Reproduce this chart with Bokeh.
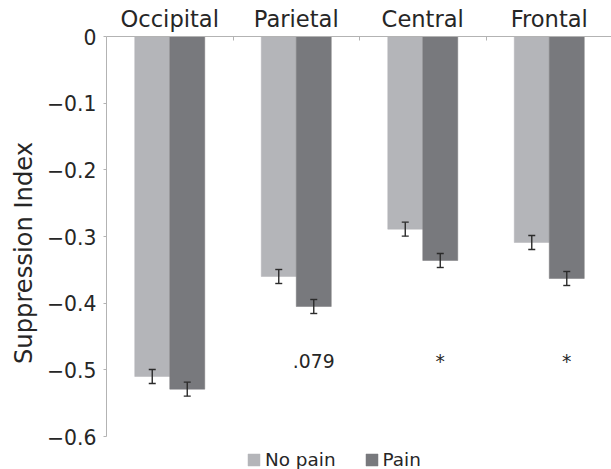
from bokeh.plotting import figure
from bokeh.models import (Range1d, FixedTicker, ColumnDataSource, Whisker, TeeHead,
                          Legend, LegendItem)
from bokeh.core.properties import value
from bokeh.embed import file_html
from bokeh.resources import INLINE

# ---- data ----
categories = ["Occipital", "Parietal", "Central", "Frontal"]
no_pain = [-0.510, -0.360, -0.289, -0.309]
pain = [-0.529, -0.405, -0.336, -0.363]
no_pain_err = [0.0105, 0.0105, 0.0105, 0.0105]
pain_err = [0.0105, 0.0105, 0.0105, 0.0105]
annotations = ["", ".079", "*", "*"]
y_ticks = [0, -0.1, -0.2, -0.3, -0.4, -0.5, -0.6]
y_tick_labels = ["0", "\u22120.1", "\u22120.2", "\u22120.3", "\u22120.4", "\u22120.5", "\u22120.6"]

FONT = "DejaVu Sans"
LIGHT = "#b4b5b9"
DARK = "#78797d"
TEXT = "#262626"
AXIS = "#b3b3b3"

bar_w = 0.2767
centers = [i + 0.5 for i in range(len(categories))]
x_np = [c - bar_w / 2 for c in centers]
x_p = [c + bar_w / 2 for c in centers]

p = figure(width=611, height=469, x_range=Range1d(0, 3.992), y_range=Range1d(-0.6495, 0),
           x_axis_location="above", output_backend="svg", toolbar_location=None,
           min_border_left=106, min_border_top=36, min_border_right=0, min_border_bottom=0)
p.outline_line_color = None
p.grid.visible = False
p.background_fill_color = "white"

src_np = ColumnDataSource(dict(x=x_np, top=[0] * 4, bottom=no_pain,
                               upper=[v + e for v, e in zip(no_pain, no_pain_err)],
                               lower=[v - e for v, e in zip(no_pain, no_pain_err)]))
src_p = ColumnDataSource(dict(x=x_p, top=[0] * 4, bottom=pain,
                              upper=[v + e for v, e in zip(pain, pain_err)],
                              lower=[v - e for v, e in zip(pain, pain_err)]))

r_np = p.vbar(x="x", width=bar_w, top="top", bottom="bottom", source=src_np,
              fill_color=LIGHT, line_color=LIGHT, line_width=0.5)
r_p = p.vbar(x="x", width=bar_w, top="top", bottom="bottom", source=src_p,
             fill_color=DARK, line_color=DARK, line_width=0.5)

for src in (src_np, src_p):
    w = Whisker(base="x", upper="upper", lower="lower", source=src, level="overlay",
                line_color="#2b2b2b", line_width=1.4,
                upper_head=TeeHead(size=7, line_color="#2b2b2b", line_width=1.4),
                lower_head=TeeHead(size=7, line_color="#2b2b2b", line_width=1.4))
    p.add_layout(w)

ann_src = ColumnDataSource(dict(x=x_p, y=[-0.487] * 4, text=annotations))
p.text(x="x", y="y", text="text", source=ann_src, text_font=value(FONT),
       text_font_size="18.8px", text_color=TEXT, text_align="center",
       text_baseline="alphabetic")

# top axis: category names at centres, ticks at category boundaries
xa = p.xaxis[0]
xa.ticker = FixedTicker(ticks=centers, minor_ticks=[1, 2, 3])
xa.major_label_overrides = {c: name for c, name in zip(centers, categories)}
xa.major_label_text_font = FONT
xa.major_label_text_font_size = "22.6px"
xa.major_label_text_color = TEXT
xa.major_label_standoff = 5
xa.major_tick_line_color = None
xa.major_tick_out = 0
xa.major_tick_in = 0
xa.minor_tick_in = 4
xa.minor_tick_out = 0
xa.minor_tick_line_color = AXIS
xa.axis_line_color = AXIS

ya = p.yaxis[0]
ya.ticker = FixedTicker(ticks=y_ticks, minor_ticks=[])
ya.major_label_overrides = {t: l for t, l in zip(y_ticks, y_tick_labels)}
ya.bounds = (-0.6, 0)
ya.axis_line_color = AXIS
ya.major_tick_line_color = AXIS
ya.major_tick_out = 3
ya.major_tick_in = 0
ya.minor_tick_line_color = None
ya.major_label_text_font = FONT
ya.major_label_text_font_size = "20.4px"
ya.major_label_text_color = TEXT
ya.major_label_standoff = 7
ya.axis_label = "Suppression Index"
ya.axis_label_text_font = FONT
ya.axis_label_text_font_size = "24.2px"
ya.axis_label_text_font_style = "normal"
ya.axis_label_text_color = TEXT
ya.axis_label_standoff = 6

legend = Legend(items=[LegendItem(label="No pain", renderers=[r_np]),
                       LegendItem(label="Pain", renderers=[r_p])],
                orientation="horizontal", location=(140, -1),
                glyph_width=15, glyph_height=15, label_height=15,
                label_standoff=4, spacing=28, padding=0, margin=0,
                border_line_color=None, background_fill_alpha=0,
                label_text_font=FONT, label_text_font_size="18.4px",
                label_text_color=TEXT)
p.add_layout(legend)

open("out.html", "w").write(file_html(p, INLINE))
